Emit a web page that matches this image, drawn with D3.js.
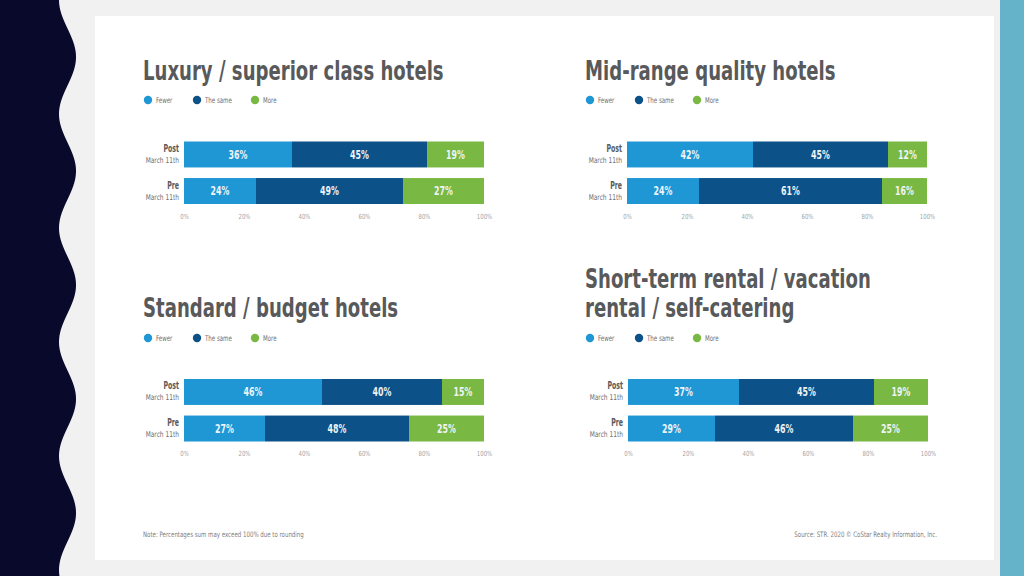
<!DOCTYPE html>
<html><head><meta charset="utf-8">
<script src="https://cdn.jsdelivr.net/npm/d3@7"></script>
<style>
html,body{margin:0;padding:0;background:#f1f1f1;}
svg{display:block;}
</style></head>
<body>
<svg id="c" width="1024" height="576"></svg>
<script>
// ---- data ----
const categories = ["Post", "Pre"];
const categorySub = "March 11th";
const seriesNames = ["Fewer", "The same", "More"];
const seriesColors = ["#1f97d4", "#0c5187", "#79b843"];
const tickValues = [0, 20, 40, 60, 80, 100];
const luxuryValues   = {Post: [36, 45, 19], Pre: [24, 49, 27]};
const midRangeValues = {Post: [42, 45, 12], Pre: [24, 61, 16]};
const standardValues = {Post: [46, 40, 15], Pre: [27, 48, 25]};
const shortTermValues= {Post: [37, 45, 19], Pre: [29, 46, 25]};
const panelTitles = [
  ["Luxury / superior class hotels"],
  ["Mid-range quality hotels"],
  ["Standard / budget hotels"],
  ["Short-term rental / vacation", "rental / self-catering"]
];
const noteText = "Note: Percentages sum may exceed 100% due to rounding";
const sourceText = "Source: STR. 2020 \u00A9 CoStar Realty Information, Inc.";

// ---- layout ----
const layout = [
  {tx:143, ty:[80], ly:100, bx:184, by:141.5, vals:luxuryValues},
  {tx:585, ty:[80], ly:100, bx:627, by:141.5, vals:midRangeValues},
  {tx:143, ty:[317], ly:338, bx:184, by:379, vals:standardValues},
  {tx:585, ty:[288,317], ly:338, bx:628, by:379, vals:shortTermValues}
];

const svg = d3.select("#c");
const FONT = "'DejaVu Sans Condensed','Liberation Sans Narrow',Roboto,sans-serif";

// condensed text helper
function txt(g, x, y, str, o) {
  return g.append("text")
    .attr("transform", `translate(${x},${y}) scale(${o.sx || 0.8},1)`)
    .attr("dy", o.dy || null)
    .attr("text-anchor", o.anchor || "start")
    .attr("font-family", FONT).attr("font-stretch", "condensed")
    .attr("font-size", o.size).attr("font-weight", o.weight || "normal")
    .attr("fill", o.fill).text(str);
}

// background
svg.append("rect").attr("width",1024).attr("height",576).attr("fill","#f1f1f1");
svg.append("rect").attr("x",95).attr("y",16).attr("width",899).attr("height",544).attr("fill","#ffffff");
svg.append("rect").attr("x",1000).attr("y",0).attr("width",24).attr("height",576).attr("fill","#65b3c9");

// wavy dark band on the left (decoration)
(function(){
  const period = 114, mid = 67.5, amp = 8.5;
  const pts = [[0,-10]];
  for (let yy = -10; yy <= 590; yy += 2) {
    pts.push([mid - amp * Math.cos(2 * Math.PI * yy / period), yy]);
  }
  pts.push([0,590]);
  svg.append("path").attr("d", d3.line()(pts) + "Z").attr("fill","#08092b");
})();

layout.forEach((p, i) => {
  const g = svg.append("g");
  // title
  panelTitles[i].forEach((t, k) => {
    txt(g, p.tx, p.ty[k], t, {size:27, weight:"bold", fill:"#58595b", sx:0.745});
  });
  // legend
  const legOff = [5, 54, 112];
  seriesNames.forEach((s, k) => {
    g.append("circle").attr("cx", p.tx + legOff[k]).attr("cy", p.ly).attr("r", 4.2).attr("fill", seriesColors[k]);
    txt(g, p.tx + legOff[k] + 8, p.ly, s, {size:8, fill:"#6d6e71", dy:"0.35em", sx:0.76});
  });
  // scales
  const x = d3.scaleLinear().domain([0, 100]).range([p.bx, p.bx + 300]).clamp(true);
  const y = d3.scaleBand().domain(categories).range([p.by, p.by + 62.5]).paddingInner(0.29);
  // bars (the last segment fills to 100%, sums differ from 100 only by rounding)
  categories.forEach(c => {
    const vals = p.vals[c];
    let cum = 0;
    vals.forEach((v, k) => {
      const x0 = x(cum);
      cum += v;
      const x1 = k === vals.length - 1 ? x(100) : x(cum);
      g.append("rect").attr("x", x0).attr("y", y(c)).attr("width", Math.max(0, x1 - x0)).attr("height", y.bandwidth())
        .attr("fill", seriesColors[k]);
      txt(g, (x0 + x1) / 2, y(c) + y.bandwidth() / 2, v + "%",
        {size:11.5, weight:"bold", fill:"#eef4f8", dy:"0.36em", anchor:"middle", sx:0.76});
    });
    // category labels
    txt(g, p.bx - 5, y(c) + y.bandwidth() / 2 - 2.5, c, {size:10.5, weight:"bold", fill:"#58595b", anchor:"end", sx:0.66});
    txt(g, p.bx - 5, y(c) + y.bandwidth() / 2 + 8.5, categorySub, {size:8, fill:"#6d6e71", anchor:"end", sx:0.82});
  });
  // axis
  const ax = g.append("g").attr("transform", `translate(0,${p.by + 62.5})`)
    .call(d3.axisBottom(x).tickValues(tickValues).tickSize(0).tickPadding(10).tickFormat(d => d + "%"));
  ax.select(".domain").remove();
  ax.selectAll(".tick text").attr("font-family", FONT).attr("font-size", 7).attr("fill", "#a0a4a8")
    .attr("transform", "scale(0.85,1)");
});

// notes
txt(svg, 143, 534, noteText, {size:7.5, fill:"#808080", dy:"0.35em", sx:0.81});
txt(svg, 937, 534, sourceText, {size:7.5, fill:"#808080", dy:"0.35em", anchor:"end", sx:0.81});
</script>
</body></html>
